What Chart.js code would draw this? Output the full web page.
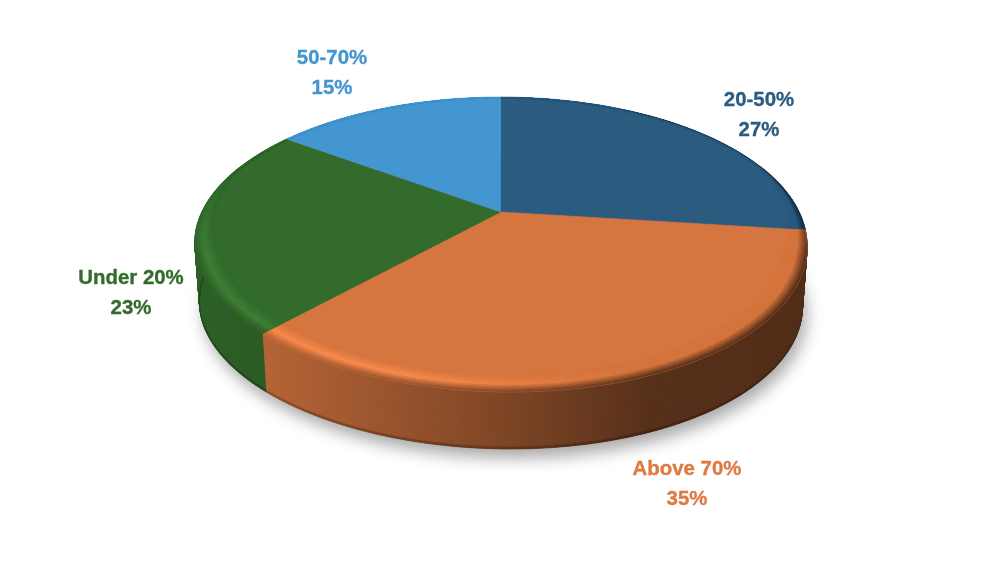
<!DOCTYPE html>
<html><head><meta charset="utf-8">
<style>html,body{margin:0;padding:0;background:#fff}canvas{display:block}</style>
<script src="https://cdn.jsdelivr.net/npm/chart.js@4/dist/chart.umd.min.js"></script>
</head><body>
<canvas id="c" width="1002" height="564"></canvas>
<script>
const categories = ['20-50%', 'Above 70%', 'Under 20%', '50-70%'];
const shares = [27, 35, 23, 15];
const sliceColors = ['#2b5c80', '#d5753f', '#336b2c', '#4496d1'];
const labelColors = ['#2b5c80', '#dd7a42', '#336b2c', '#4596d0'];
const labelCentres = [[759, 100], [687, 469], [131, 278], [332, 58]];

// perspective view of the pie's disc
const VIEW = {cx: 500.5, cy: 212, R: 298.6, b: 140.3, p: 0.2203, drop: 59.7, shrink: 0.985, skew: 10};
function project(a, r, z) { // angle, radius 0..1, z 0 top .. 1 bottom
  const u = r * Math.cos(a), v = r * Math.sin(a), w = 1 - VIEW.p * v, s = 1 - (1 - VIEW.shrink) * z;
  const lean = v > 0 ? VIEW.skew * v * v : 0;
  return [VIEW.cx + lean + s * VIEW.R * u / w, VIEW.cy + z * VIEW.drop + s * VIEW.b * v / w];
}
function rgb(hex) { return [1, 3, 5].map(i => parseInt(hex.substr(i, 2), 16)); }
function mix(a, b, t) { return a.map((c, i) => c + (b[i] - c) * t); }
function css(c) { return `rgb(${c.map(v => Math.min(255, Math.round(v))).join(',')})`; }
function shade(x) { // wall lighting, left to right
  const pts = [[190, .9], [267, .86], [500, .6], [650, .41], [820, .38]];
  for (let i = 1; i < pts.length; i++) if (x <= pts[i][0]) {
    const t = Math.max(0, (x - pts[i-1][0]) / (pts[i][0] - pts[i-1][0]));
    return pts[i-1][1] + (pts[i][1] - pts[i-1][1]) * t;
  }
  return .38;
}
function quad(ctx, pts, col) {
  ctx.beginPath();
  pts.forEach((p, i) => i ? ctx.lineTo(p[0], p[1]) : ctx.moveTo(p[0], p[1]));
  ctx.closePath();
  ctx.fillStyle = col; ctx.strokeStyle = col; ctx.lineWidth = .8;
  ctx.fill(); ctx.stroke();
}
function steps(s, e) { const n = Math.max(2, Math.ceil((e - s) / 0.006)); return Array.from({length: n + 1}, (_, i) => s + (e - s) * i / n); }

const pie3d = {
  id: 'pie3d',
  beforeDatasetsDraw(chart) {
    const ctx = chart.ctx, arcs = chart.getDatasetMeta(0).data;
    ctx.save();
    // soft shadow under the base
    ctx.save();
    ctx.shadowColor = 'rgba(0,0,0,.34)'; ctx.shadowBlur = 16; ctx.shadowOffsetX = 4; ctx.shadowOffsetY = 9;
    ctx.beginPath();
    steps(0, Math.PI * 2).forEach((a, i) => { const p = project(a, 1, 1); i ? ctx.lineTo(p[0], p[1]) : ctx.moveTo(p[0], p[1]); });
    ctx.closePath(); ctx.fillStyle = '#555'; ctx.fill();
    ctx.restore();

    // walls
    arcs.forEach((arc, k) => {
      const base = rgb(sliceColors[k]), as = steps(arc.startAngle, arc.endAngle);
      for (let i = 0; i < as.length - 1; i++) {
        const a0 = as[i], a1 = as[i + 1];
        if (Math.sin((a0 + a1) / 2) < -0.35) continue;
        const x = project(a0, 1, 1)[0], sh = shade(x);
        const zs = [0, .5, .965, 1];
        for (let j = 0; j < zs.length - 1; j++) {
          const dark = j === 2 ? .78 : 1;
          quad(ctx, [project(a0, 1, zs[j]), project(a1, 1, zs[j]), project(a1, 1, zs[j+1]), project(a0, 1, zs[j+1])], css(mix([0,0,0], base, sh * dark)));
        }
      }
    });

    // top faces with rounded edge
    arcs.forEach((arc, k) => {
      const base = rgb(sliceColors[k]), as = steps(arc.startAngle, arc.endAngle);
      ctx.save();
      ctx.beginPath();
      const apex = project(0, 0, 0);
      ctx.moveTo(apex[0], apex[1]);
      as.forEach(a => { const p = project(a, 1, 0); ctx.lineTo(p[0], p[1]); });
      ctx.closePath();
      ctx.fillStyle = css(base); ctx.fill();
      ctx.strokeStyle = css(base); ctx.lineWidth = .6; ctx.stroke();
      ctx.clip();
      for (let i = 0; i < as.length - 1; i++) {
        const a0 = as[i], a1 = as[i + 1], mid = (a0 + a1) / 2, v = Math.sin(mid), u = Math.cos(mid);
        const front = Math.max(0, Math.min(1, (v + .3) / .6));
        const width = .012 + .062 * front;
        const x = project(mid, 1, 0)[0];
        const wall = mix([0,0,0], base, shade(x));
        // highlight on the lit, left-facing front; none toward the right
        const lit = Math.max(0, Math.min(1, (640 - x) / 240)) * front;
        const hi = mix(base, base.map(c => c * 1.14 + 6), lit);
        const amount = Math.max(front, u > .5 ? .8 : 0);
        const rs = 10;
        for (let j = 0; j < rs; j++) {
          const t0 = j / rs, t1 = (j + 1) / rs, t = (t0 + t1) / 2;
          const c = t < .55 ? mix(base, hi, t / .55) : mix(hi, mix(hi, wall, amount), (t - .55) / .45);
          const r0 = 1 - width * (1 - t0), r1 = 1 - width * (1 - t1);
          quad(ctx, [project(a0, r0, 0), project(a1, r0, 0), project(a1, r1, 0), project(a0, r1, 0)], css(c));
        }
      }
      ctx.restore();
    });

    // labels
    ctx.font = 'bold 20.4px "Liberation Sans"';
    ctx.textAlign = 'center'; ctx.textBaseline = 'middle';
    ctx.lineWidth = .35; ctx.lineJoin = 'round';
    categories.forEach((name, k) => {
      ctx.fillStyle = ctx.strokeStyle = labelColors[k];
      const [x, y] = labelCentres[k];
      ctx.fillText(name, x, y); ctx.strokeText(name, x, y);
      ctx.fillText(shares[k] + '%', x, y + 30); ctx.strokeText(shares[k] + '%', x, y + 30);
    });
    ctx.restore();
    return false;
  }
};

new Chart(document.getElementById('c'), {
  type: 'pie',
  data: {labels: categories, datasets: [{data: shares, backgroundColor: sliceColors, borderWidth: 0}]},
  options: {responsive: false, animation: false, plugins: {legend: {display: false}, tooltip: {enabled: false}}},
  plugins: [pie3d]
});
</script>
</body></html>
